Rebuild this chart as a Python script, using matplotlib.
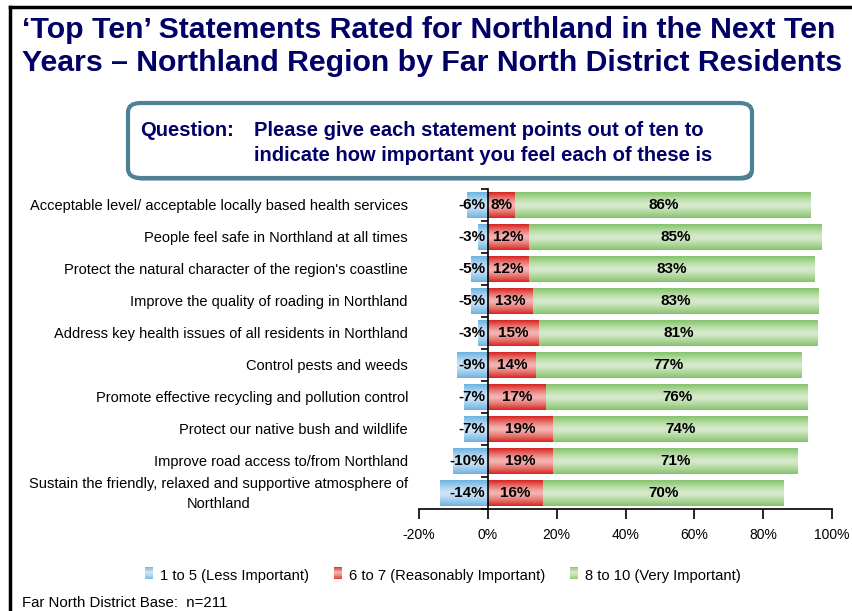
import numpy as np
import matplotlib
matplotlib.use("Agg")
import matplotlib.pyplot as plt
from matplotlib.colors import LinearSegmentedColormap
from matplotlib.patches import FancyBboxPatch, Patch, Rectangle
from matplotlib.lines import Line2D
from matplotlib.legend_handler import HandlerBase

plt.rcParams['font.family'] = ['Liberation Sans', 'DejaVu Sans']

categories = [
    "Acceptable level/ acceptable locally based health services",
    "People feel safe in Northland at all times",
    "Protect the natural character of the region's coastline",
    "Improve the quality of roading in Northland",
    "Address key health issues of all residents in Northland",
    "Control pests and weeds",
    "Promote effective recycling and pollution control",
    "Protect our native bush and wildlife",
    "Improve road access to/from Northland",
    "Sustain the friendly, relaxed and supportive atmosphere of\nNorthland",
]
less_important = [-6, -3, -5, -5, -3, -9, -7, -7, -10, -14]
reasonably_important = [8, 12, 12, 13, 15, 14, 17, 19, 19, 16]
very_important = [86, 85, 83, 83, 81, 77, 76, 74, 71, 70]
series_names = ["1 to 5 (Less Important)", "6 to 7 (Reasonably Important)", "8 to 10 (Very Important)"]
xticks = [-20, 0, 20, 40, 60, 80, 100]

NAVY = '#000066'
colors = [('#6cb2e0', '#cde6f6'), ('#d8241e', '#f4b4b2'), ('#84c36b', '#d6eacb')]

W, H = 852, 611
fig = plt.figure(figsize=(W / 100, H / 100), dpi=100)

# frame lines
fig.add_artist(Line2D([10 / W, 10 / W], [0, 1 - 7 / H], color='black', lw=2.5, transform=fig.transFigure))
fig.add_artist(Line2D([10 / W, 1], [1 - 7 / H, 1 - 7 / H], color='black', lw=2.5, transform=fig.transFigure))

# title
fig.text(22 / W, 1 - 30 / H, "\u2018Top Ten\u2019 Statements Rated for Northland in the Next Ten",
         fontsize=21.8, fontweight='bold', color=NAVY, va='center', ha='left')
fig.text(22 / W, 1 - 63 / H, "Years \u2013 Northland Region by Far North District Residents",
         fontsize=21.8, fontweight='bold', color=NAVY, va='center', ha='left')

# question box
bx0, by0, bx1, by1 = 128, 103, 752, 178
shadow = FancyBboxPatch((bx0 / W + 0.002, 1 - by1 / H - 0.004), (bx1 - bx0) / W, (by1 - by0) / H,
                        boxstyle="round,pad=0,rounding_size=0.015", transform=fig.transFigure,
                        facecolor='#3f6a7c', edgecolor='none', zorder=1)
box = FancyBboxPatch((bx0 / W, 1 - by1 / H), (bx1 - bx0) / W, (by1 - by0) / H,
                     boxstyle="round,pad=0,rounding_size=0.015", transform=fig.transFigure,
                     facecolor='white', edgecolor='#4f8196', lw=3, zorder=2)
fig.add_artist(shadow)
fig.add_artist(box)
fig.text(140 / W, 1 - 130 / H, "Question:", fontsize=14.5, fontweight='bold', color=NAVY, va='center', zorder=3)
fig.text(254 / W, 1 - 130 / H, "Please give each statement points out of ten to", fontsize=14.5,
         fontweight='bold', color=NAVY, va='center', zorder=3)
fig.text(254 / W, 1 - 155 / H, "indicate how important you feel each of these is", fontsize=14.5,
         fontweight='bold', color=NAVY, va='center', zorder=3)

ax = fig.add_axes([419 / W, 102 / H, 413 / W, 320 / H])
n = len(categories)
y = np.arange(n)
bh = 0.8

grad = np.abs(np.linspace(-1, 1, 64))[:, None] ** 1.3

def gradient_bars(bars, c_edge, c_mid):
    cmap = LinearSegmentedColormap.from_list('g', [c_mid, c_edge])
    for b in bars:
        x0, y0 = b.get_x(), b.get_y()
        w, h = b.get_width(), b.get_height()
        ax.imshow(grad, cmap=cmap, vmin=0, vmax=1, aspect='auto',
                  extent=[x0, x0 + w, y0 + h, y0], zorder=2, interpolation='bilinear')

b1 = ax.barh(y, less_important, height=bh, color=colors[0][0], zorder=1)
b2 = ax.barh(y, reasonably_important, height=bh, color=colors[1][0], zorder=1)
b3 = ax.barh(y, very_important, left=reasonably_important, height=bh, color=colors[2][0], zorder=1)
gradient_bars(b1, *colors[0])
gradient_bars(b2, *colors[1])
gradient_bars(b3, *colors[2])

for i in range(n):
    ax.text(-0.8, i, f"{less_important[i]}%", ha='right', va='center', fontsize=11,
            fontweight='bold', zorder=5)
    ax.text(reasonably_important[i] / 2, i, f"{reasonably_important[i]}%", ha='center', va='center',
            fontsize=11, fontweight='bold', zorder=5)
    ax.text(reasonably_important[i] + very_important[i] / 2, i, f"{very_important[i]}%", ha='center',
            va='center', fontsize=11, fontweight='bold', zorder=5)

ax.set_xlim(-20, 100)
ax.set_ylim(n - 0.5, -0.5)
ax.spines['top'].set_visible(False)
ax.spines['right'].set_visible(False)
ax.spines['left'].set_position(('data', 0))
ax.spines['left'].set_zorder(6)
ax.spines['left'].set_linewidth(1.2)
ax.spines['bottom'].set_linewidth(1.2)
ax.set_yticks(np.arange(-0.5, n, 1.0))
ax.set_yticklabels([])
ax.tick_params(axis='y', direction='out', length=5, width=1.2)
ax.set_xticks(xticks)
ax.set_xticklabels([f"{t}%" for t in xticks], fontsize=10)
ax.tick_params(axis='x', direction='out', length=7, width=1.2, pad=7)
ax.set_facecolor('none')

for i, c in enumerate(categories):
    fig.text(408 / W, 1 - (206 + 32 * i) / H, c, ha='right', va='center', fontsize=10.5,
             multialignment='center', linespacing=1.55)


class GradientHandler(HandlerBase):
    def create_artists(self, legend, orig_handle, xdescent, ydescent, width, height, fontsize, trans):
        c_edge, c_mid = orig_handle.c_edge, orig_handle.c_mid
        cmap = LinearSegmentedColormap.from_list('g', [c_mid, c_edge])
        k = 8
        arts = []
        for j in range(k):
            t = abs((j + 0.5) / k * 2 - 1) ** 1.3
            r = Rectangle((xdescent, ydescent + height * j / k), width, height / k + 0.2,
                          facecolor=cmap(t), edgecolor='none', transform=trans)
            arts.append(r)
        return arts


handles = []
for k in range(3):
    p = Patch(facecolor=colors[k][0])
    p.c_edge, p.c_mid = colors[k]
    handles.append(p)
fig.legend(handles, series_names, loc='center', bbox_to_anchor=(443 / W, 1 - 576 / H), ncol=3,
           frameon=False, fontsize=10.6, handlelength=0.55, handleheight=0.9, handletextpad=0.45,
           columnspacing=1.7, handler_map={Patch: GradientHandler()})

fig.text(22 / W, 1 - 603 / H, "Far North District Base:  n=211", fontsize=10.8, va='center')

fig.savefig("out.png", dpi=100)
